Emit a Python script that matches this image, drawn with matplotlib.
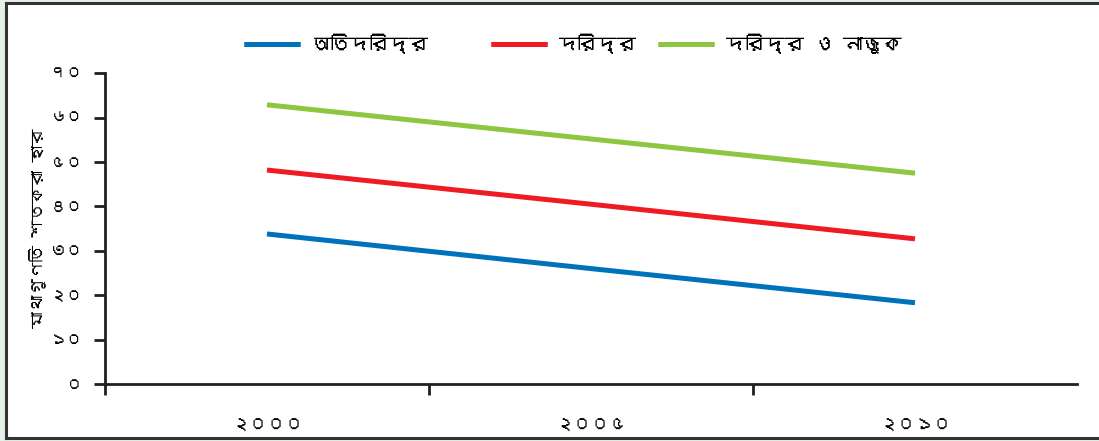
import matplotlib
matplotlib.use("Agg")
import matplotlib.pyplot as plt
from matplotlib import font_manager
from matplotlib.ft2font import FT2Font
from matplotlib.patches import Rectangle

# look for any installed font that really has Bengali glyphs
bn_font = None
for path in sorted(font_manager.findSystemFonts()):
    try:
        f = FT2Font(path)
        if f.get_char_index(ord("অ")) and f.get_char_index(ord("৫")):
            font_manager.fontManager.addfont(path)
            bn_font = font_manager.FontProperties(fname=path).get_name()
            break
    except Exception:
        pass

families = ([bn_font] if bn_font else []) + ["Noto Sans", "DejaVu Sans"]
plt.rcParams["font.family"] = families

years = ["২০০০", "২০০৫", "২০১০"]
extreme_poor = [33.8, 26.0, 18.3]
poor = [48.2, 40.5, 32.7]
poor_vulnerable = [62.9, 55.2, 47.5]
series_names = ["অতিদরিদ্র", "দরিদ্র", "দরিদ্র ও নাজুক"]
colors = ["#0072bc", "#ed1c24", "#8dc63f"]
yticks = [0, 10, 20, 30, 40, 50, 60, 70]
ytick_labels = ["০", "১০", "২০", "৩০", "৪০", "৫০", "৬০", "৭০"]
ylabel = "মাথাগুণতি শতকরা হার"

fig = plt.figure(figsize=(10.99, 4.41), dpi=100)
fig.patch.set_facecolor("#e4f1e6")
# white panel with dark frame (no right edge)
fig.patches.append(Rectangle((6 / 1099, 3 / 441), 1.2, 435 / 441, transform=fig.transFigure,
                             facecolor="white", edgecolor="none", lw=0, zorder=-5))
for xs, ys in [([6, 6], [3, 438]), ([6, 1110], [3, 3]), ([6, 1110], [438, 438])]:
    fig.add_artist(plt.Line2D([x / 1099 for x in xs], [1 - y / 441 for y in ys],
                              color="#333333", lw=2.2, transform=fig.transFigure, zorder=-4))

ax = fig.add_axes([0.0955, 0.1293, 0.8845, 0.7045])
ax.set_facecolor("none")
xs = range(len(years))
lines = []
for vals, c, name in zip([extreme_poor, poor, poor_vulnerable], colors, series_names):
    ln, = ax.plot(xs, vals, color=c, lw=3.6, solid_capstyle="butt", label=name)
    lines.append(ln)

ax.set_xlim(-0.5, 2.5)
ax.set_ylim(0, 70)
for s in ["top", "right"]:
    ax.spines[s].set_visible(False)
for s in ["left", "bottom"]:
    ax.spines[s].set_linewidth(2)
    ax.spines[s].set_color("#231f20")

ax.set_yticks(yticks)
ax.set_yticklabels(ytick_labels, fontsize=12)
ax.tick_params(axis="y", length=8, width=2, color="#231f20", pad=8)

ax.set_xticks(list(xs))
ax.set_xticklabels(years, fontsize=13)
ax.tick_params(axis="x", which="major", length=0, pad=25)
ax.set_xticks([-0.5, 0.5, 1.5], minor=True)
ax.tick_params(axis="x", which="minor", length=8, width=2, color="#231f20")

ax.set_ylabel(ylabel, fontsize=12)
ax.yaxis.set_label_coords(-0.06, 0.5)

# legend entries placed separately to keep original spacing
anchors = [(226 / 1099, 0.9), (473 / 1099, 0.9), (640 / 1099, 0.9)]
for ln, anc in zip(lines, anchors):
    leg = fig.legend(handles=[ln], loc="center left", bbox_to_anchor=anc, frameon=False,
                     fontsize=14, handlelength=2.9, handletextpad=0.6)
    fig.add_artist(leg)

fig.savefig("out.png", dpi=100)
